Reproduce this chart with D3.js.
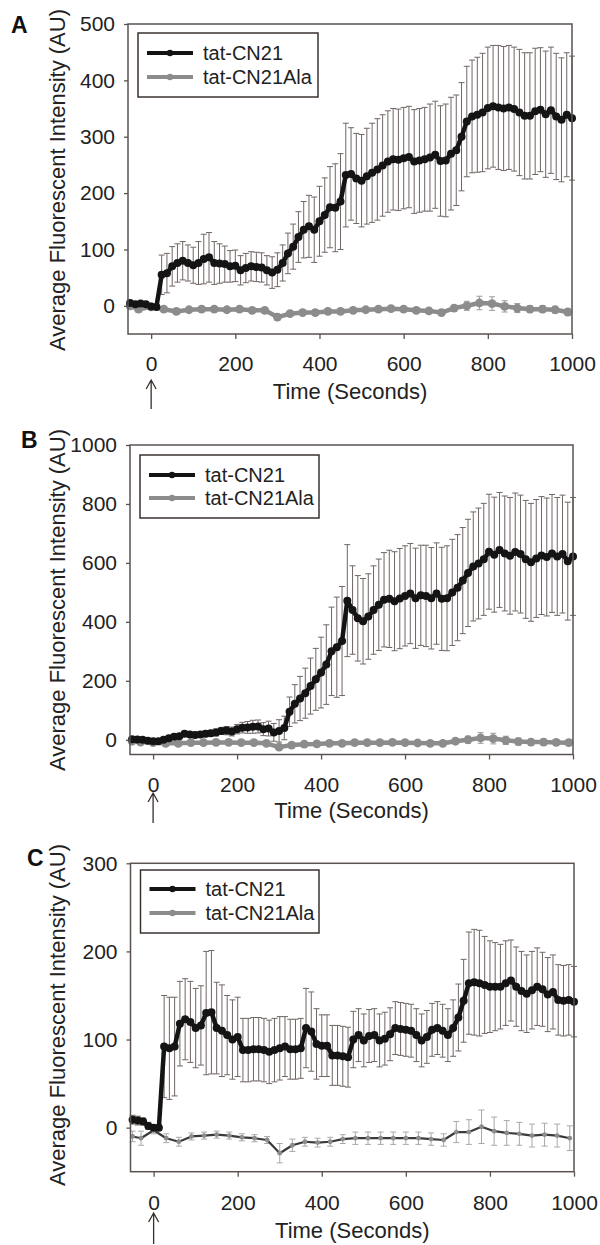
<!DOCTYPE html>
<html>
<head>
<meta charset="utf-8">
<script src="https://cdn.jsdelivr.net/npm/d3@7"></script>
<style>
  html, body { margin: 0; padding: 0; background: #fff; }
  svg { display: block; font-family: "Liberation Sans", Arial, sans-serif; }
</style>
</head>
<body>
<svg id="chart" width="600" height="1245"></svg>
<script>
// ---------------- DATA ----------------
const times = [-50,-37.5,-25,-12.5,0,12.5,25,37.5,50,62.5,75,87.5,100,112.5,125,137.5,150,162.5,175,187.5,
  200,212.5,225,237.5,250,262.5,275,287.5,300,312.5,325,337.5,350,362.5,375,387.5,400,412.5,425,437.5,
  450,462.5,475,487.5,500,512.5,525,537.5,550,562.5,575,587.5,600,612.5,625,637.5,650,662.5,675,687.5,
  700,712.5,725,737.5,750,762.5,775,787.5,800,812.5,825,837.5,850,862.5,875,887.5,900,912.5,925,937.5,
  950,962.5,975,987.5,1000];
const alaTimes = [-50,-30,0,30,60,90,120,150,180,210,240,270,300,330,360,390,420,450,480,510,540,570,600,
  630,660,690,720,750,780,810,840,870,900,930,960,990];

const seriesNames = ["tat-CN21", "tat-CN21Ala"];
const panelLabels = ["A", "B", "C"];
const xTickValues = [0, 200, 400, 600, 800, 1000];
const yTicksA = [0, 100, 200, 300, 400, 500];
const yTicksB = [0, 200, 400, 600, 800, 1000];
const yTicksC = [0, 100, 200, 300];
const xTitle = "Time (Seconds)";
const yTitle = "Average Fluorescent Intensity (AU)";

// Panel A
const aCN21 = [5,3,4,3,-1,-2,55,58,70,76,80,76,72,76,83,86,76,75,74,70,
  71,63,67,70,69,68,63,59,64,76,93,105,122,135,141,135,150,161,175,174,
  185,232,234,226,222,230,236,242,249,256,260,259,262,264,256,258,260,263,268,257,
  258,270,276,300,327,336,339,343,351,354,352,350,352,349,343,337,337,345,348,340,
  347,336,330,339,333];
const aCN21Err = [3,3,3,3,3,3,35,35,35,34,34,32,32,38,44,44,38,35,32,28,
  28,26,26,26,26,26,26,28,30,32,36,40,45,50,55,58,62,66,72,78,
  85,92,82,80,82,85,88,90,90,90,90,90,90,90,92,92,92,95,95,98,
  100,100,98,96,98,100,102,105,108,108,110,110,110,110,112,112,112,112,110,112,
  112,112,110,110,110];
const aAla = [0,-6,-2,-6,-10,-7,-6,-6,-7,-6,-8,-8,-20,-14,-12,-12,-10,-10,-8,-7,-6,-5,-6,
  -8,-9,-12,-4,0,5,4,-1,-4,-6,-6,-7,-11];
const aAlaErr = [4,5,4,4,4,4,4,4,4,4,4,4,5,5,4,4,4,4,4,4,4,4,4,
  4,4,5,5,8,12,12,10,8,6,6,6,6];

// Panel B
const bCN21 = [2,1,0,-3,-5,-5,0,5,10,12,20,18,16,18,20,22,25,30,31,28,
  36,41,42,44,45,36,38,25,30,40,95,122,140,158,182,205,228,255,300,314,
  335,472,440,412,402,418,440,458,475,478,470,479,488,496,480,490,488,480,496,478,
  480,500,516,540,566,588,598,612,638,628,644,632,624,637,630,612,602,615,625,620,
  632,622,630,606,622];
const bCN21Err = [5,5,5,5,5,5,6,6,7,8,8,8,9,9,10,10,12,12,14,15,
  16,18,20,22,22,22,25,30,38,40,50,65,75,85,95,105,120,135,150,170,
  185,190,150,145,145,145,150,155,160,165,168,170,170,170,170,170,172,172,172,175,
  178,180,180,180,182,185,188,190,195,195,195,195,198,200,200,200,200,200,200,200,
  200,200,200,200,200];
const bAla = [-5,-8,-10,-12,-12,-10,-10,-9,-9,-10,-10,-12,-25,-18,-15,-14,-12,-12,-10,-10,-10,-9,-10,
  -11,-12,-12,-5,0,6,4,-2,-6,-8,-8,-9,-10];
const bAlaErr = [5,5,5,5,5,5,5,5,5,5,5,6,8,6,6,6,6,6,6,6,6,6,6,
  6,6,6,8,12,18,18,14,12,10,10,10,10];

// Panel C
const cCN21 = [9,8,7,2,0,0,92,90,92,118,123,120,113,116,130,131,113,110,105,100,
  103,88,88,89,89,88,86,88,90,92,89,89,90,113,109,95,93,93,82,82,
  81,80,100,105,99,104,105,99,101,106,113,112,111,110,105,99,103,111,113,110,
  105,113,125,144,164,165,164,162,160,160,160,164,167,160,155,152,156,160,157,151,
  154,145,144,145,143];
const cCN21Err = [5,5,4,4,3,3,58,58,56,48,46,46,45,45,70,70,52,52,45,45,
  45,36,36,36,36,36,36,36,36,34,34,34,34,45,45,40,35,35,34,34,
  34,34,32,30,30,30,30,30,30,30,30,30,30,30,30,30,30,30,30,30,
  30,32,38,47,58,60,60,55,52,50,48,48,46,45,45,44,44,44,42,42,
  42,40,40,40,40];
const cAla = [-10,-12,-3,-12,-16,-10,-9,-8,-9,-11,-12,-14,-29,-20,-16,-17,-16,-13,-12,-12,-12,-12,-12,
  -12,-13,-14,-5,-5,1,-4,-6,-7,-9,-8,-9,-12];
const cAlaErr = [6,8,4,5,5,4,4,4,4,4,4,4,11,7,5,5,5,5,7,7,7,7,7,
  7,7,7,12,14,19,16,14,13,13,13,13,14];

// ---------------- LAYOUT ----------------
const FONT = '"Liberation Sans", Arial, sans-serif';
const panels = [
  { label: panelLabels[0], labelX: 11, labelY: 33,
    left: 128, right: 572, top: 24, bottom: 334, ydom: [-50, 500], yticks: yTicksA,
    cn: aCN21, cnErr: aCN21Err, ala: aAla, alaErr: aAlaErr,
    yTitleY: 180, tickBase: 371, titleBase: 399, arrowTop: 380, arrowBot: 409,
    legTop: 33, legBot: 97, legRight: 318, leg1: 53, leg2: 77, thinAla: false },
  { label: panelLabels[1], labelX: 21, labelY: 448,
    left: 130, right: 573, top: 445, bottom: 754.5, ydom: [-50, 1000], yticks: yTicksB,
    cn: bCN21, cnErr: bCN21Err, ala: bAla, alaErr: bAlaErr,
    yTitleY: 600, tickBase: 792, titleBase: 818, arrowTop: 793, arrowBot: 823,
    legTop: 455, legBot: 518, legRight: 319, leg1: 475, leg2: 498, thinAla: false },
  { label: panelLabels[2], labelX: 27, labelY: 866,
    left: 130.5, right: 574, top: 863.3, bottom: 1171.7, ydom: [-50, 300], yticks: yTicksC,
    cn: cCN21, cnErr: cCN21Err, ala: cAla, alaErr: cAlaErr,
    yTitleY: 1015, tickBase: 1210, titleBase: 1238, arrowTop: 1213, arrowBot: 1244,
    legTop: 870, legBot: 933, legRight: 319, leg1: 889, leg2: 913, thinAla: true }
];

const svg = d3.select("#chart");
const BLACK = "#141414", GREY = "#8c8c8c", FRAME = "#5a5350", ERR = "#706664";

function errorBars(g, ts, vals, errs, x, y, color, cap) {
  const d = ts.map((t, i) => ({ t, v: vals[i], e: errs[i] }));
  const eg = g.append("g").attr("stroke", color).attr("stroke-width", 1).attr("fill", "none");
  eg.selectAll("path").data(d).join("path")
    .attr("d", p => {
      const xx = x(p.t), y1 = y(p.v + p.e), y2 = y(p.v - p.e);
      return `M${xx},${y1}V${y2}M${xx - cap},${y1}H${xx + cap}M${xx - cap},${y2}H${xx + cap}`;
    });
}

panels.forEach(p => {
  const g = svg.append("g");
  const x = d3.scaleLinear().domain([-55, 1000]).range([p.left, p.right]);
  const y = d3.scaleLinear().domain(p.ydom).range([p.bottom, p.top]);

  // error bars
  errorBars(g, alaTimes, p.ala, p.alaErr, x, y, p.thinAla ? "#a8a8a8" : "#9a9a9a", 3);
  errorBars(g, times, p.cn, p.cnErr, x, y, ERR, 3);

  // tat-CN21Ala line
  const lineAla = d3.line().x((d, i) => x(alaTimes[i])).y(d => y(d));
  g.append("path").datum(p.ala).attr("d", lineAla).attr("fill", "none")
    .attr("stroke", p.thinAla ? "#3a3a3a" : GREY).attr("stroke-width", p.thinAla ? 2.2 : 4.5)
    .attr("stroke-linejoin", "round");
  g.append("g").selectAll("circle").data(p.ala).join("circle")
    .attr("cx", (d, i) => x(alaTimes[i])).attr("cy", d => y(d))
    .attr("r", p.thinAla ? 2.4 : 4.4).attr("fill", GREY);

  // tat-CN21 line
  const lineCN = d3.line().x((d, i) => x(times[i])).y(d => y(d));
  g.append("path").datum(p.cn).attr("d", lineCN).attr("fill", "none")
    .attr("stroke", BLACK).attr("stroke-width", 4.5).attr("stroke-linejoin", "round");
  g.append("g").selectAll("circle").data(p.cn).join("circle")
    .attr("cx", (d, i) => x(times[i])).attr("cy", d => y(d))
    .attr("r", 4).attr("fill", BLACK);

  // frame
  g.append("rect").attr("x", p.left).attr("y", p.top)
    .attr("width", p.right - p.left).attr("height", p.bottom - p.top)
    .attr("fill", "none").attr("stroke", FRAME).attr("stroke-width", 1.5);

  // axes
  const fmt = d3.format("d");
  const xa = g.append("g").attr("transform", `translate(0,${p.bottom})`)
    .call(d3.axisBottom(x).tickValues(xTickValues).tickFormat(fmt).tickSize(5).tickSizeOuter(0));
  xa.select(".domain").remove();
  xa.selectAll(".tick line").attr("stroke", FRAME).attr("stroke-width", 1.3);
  xa.selectAll(".tick text").attr("y", p.tickBase - p.bottom).attr("dy", null)
    .attr("fill", "#222").style("font-size", "21px").style("font-family", FONT);

  const ya = g.append("g").attr("transform", `translate(${p.left},0)`)
    .call(d3.axisLeft(y).tickValues(p.yticks).tickFormat(fmt).tickSize(4).tickSizeOuter(0).tickPadding(9));
  ya.select(".domain").remove();
  ya.selectAll(".tick line").attr("stroke", FRAME).attr("stroke-width", 1.3);
  ya.selectAll(".tick text").attr("fill", "#222").style("font-size", "21px").style("font-family", FONT);

  // titles
  g.append("text").attr("x", (p.left + p.right) / 2).attr("y", p.titleBase)
    .attr("text-anchor", "middle").attr("fill", "#222").style("font-size", "22px").text(xTitle);
  g.append("text").attr("transform", `translate(65,${p.yTitleY}) rotate(-90)`)
    .attr("text-anchor", "middle").attr("fill", "#222").style("font-size", "22px").text(yTitle);

  // panel letter
  g.append("text").attr("x", p.labelX).attr("y", p.labelY).attr("fill", "#111")
    .style("font-size", "23px").style("font-weight", "bold").text(p.label);

  // arrow under 0
  const ax = x(0);
  g.append("path")
    .attr("d", `M${ax},${p.arrowBot}V${p.arrowTop}M${ax - 5},${p.arrowTop + 9}L${ax},${p.arrowTop}L${ax + 5},${p.arrowTop + 9}`)
    .attr("fill", "none").attr("stroke", "#3a2e2a").attr("stroke-width", 1.3);

  // legend
  const lx = p.left + 10;
  g.append("rect").attr("x", lx).attr("y", p.legTop).attr("width", p.legRight - lx)
    .attr("height", p.legBot - p.legTop).attr("fill", "#fff").attr("stroke", "#3a3230").attr("stroke-width", 1.5);
  [[p.leg1, BLACK], [p.leg2, GREY]].forEach(([ly, col], i) => {
    g.append("line").attr("x1", lx + 9).attr("x2", lx + 55).attr("y1", ly).attr("y2", ly)
      .attr("stroke", col).attr("stroke-width", 4);
    g.append("circle").attr("cx", lx + 32).attr("cy", ly).attr("r", 3.2).attr("fill", col);
    g.append("text").attr("x", lx + 65).attr("y", ly).attr("dy", "0.36em")
      .attr("fill", "#222").style("font-size", "20px").text(seriesNames[i]);
  });
});
</script>
</body>
</html>
